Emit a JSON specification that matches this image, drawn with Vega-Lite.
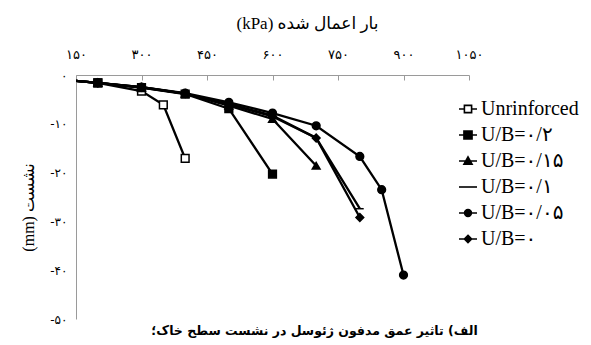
{
  "$schema": "https://vega.github.io/schema/vega-lite/v6.json",
  "autosize": {"type": "none"},
  "width": 393,
  "height": 244,
  "padding": {"left": 76, "top": 75, "right": 122, "bottom": 26},
  "background": "white",
  "config": {"view": {"stroke": null}},
  "title": {
    "text": "الف) تاثیر عمق مدفون ژئوسل در نشست سطح خاک؛",
    "orient": "bottom",
    "anchor": "middle",
    "dx": 42,
    "offset": 0,
    "font": "DejaVu Sans",
    "fontSize": 12.5,
    "fontWeight": "bold",
    "color": "black"
  },
  "data": {
    "values": [
      {"series": "Unrinforced", "load": 0, "settle": 0},
      {"series": "Unrinforced", "load": 200, "settle": -1.6},
      {"series": "Unrinforced", "load": 300, "settle": -3.3},
      {"series": "Unrinforced", "load": 350, "settle": -6.1},
      {"series": "Unrinforced", "load": 400, "settle": -17.1},
      {"series": "U/B=۰/۲", "load": 0, "settle": 0},
      {"series": "U/B=۰/۲", "load": 200, "settle": -1.6},
      {"series": "U/B=۰/۲", "load": 300, "settle": -2.6},
      {"series": "U/B=۰/۲", "load": 400, "settle": -3.9},
      {"series": "U/B=۰/۲", "load": 500, "settle": -6.9},
      {"series": "U/B=۰/۲", "load": 600, "settle": -20.3},
      {"series": "U/B=۰/۱۵", "load": 0, "settle": 0},
      {"series": "U/B=۰/۱۵", "load": 200, "settle": -1.6},
      {"series": "U/B=۰/۱۵", "load": 300, "settle": -2.6},
      {"series": "U/B=۰/۱۵", "load": 400, "settle": -3.8},
      {"series": "U/B=۰/۱۵", "load": 500, "settle": -6.3},
      {"series": "U/B=۰/۱۵", "load": 600, "settle": -9.0},
      {"series": "U/B=۰/۱۵", "load": 700, "settle": -18.6},
      {"series": "U/B=۰/۱", "load": 0, "settle": 0},
      {"series": "U/B=۰/۱", "load": 200, "settle": -1.6},
      {"series": "U/B=۰/۱", "load": 300, "settle": -2.5},
      {"series": "U/B=۰/۱", "load": 400, "settle": -3.8},
      {"series": "U/B=۰/۱", "load": 500, "settle": -5.9},
      {"series": "U/B=۰/۱", "load": 600, "settle": -8.3},
      {"series": "U/B=۰/۱", "load": 700, "settle": -12.9},
      {"series": "U/B=۰/۱", "load": 800, "settle": -27.4},
      {"series": "U/B=۰/۰۵", "load": 0, "settle": 0},
      {"series": "U/B=۰/۰۵", "load": 200, "settle": -1.6},
      {"series": "U/B=۰/۰۵", "load": 300, "settle": -2.5},
      {"series": "U/B=۰/۰۵", "load": 400, "settle": -3.7},
      {"series": "U/B=۰/۰۵", "load": 500, "settle": -5.6},
      {"series": "U/B=۰/۰۵", "load": 600, "settle": -7.8},
      {"series": "U/B=۰/۰۵", "load": 700, "settle": -10.4},
      {"series": "U/B=۰/۰۵", "load": 800, "settle": -16.7},
      {"series": "U/B=۰/۰۵", "load": 850, "settle": -23.5},
      {"series": "U/B=۰/۰۵", "load": 900, "settle": -41.0},
      {"series": "U/B=۰", "load": 0, "settle": 0},
      {"series": "U/B=۰", "load": 200, "settle": -1.6},
      {"series": "U/B=۰", "load": 300, "settle": -2.5},
      {"series": "U/B=۰", "load": 400, "settle": -3.8},
      {"series": "U/B=۰", "load": 500, "settle": -6.0},
      {"series": "U/B=۰", "load": 600, "settle": -8.5},
      {"series": "U/B=۰", "load": 700, "settle": -12.9},
      {"series": "U/B=۰", "load": 800, "settle": -29.2}
    ]
  },
  "encoding": {
    "x": {
      "field": "load",
      "type": "quantitative",
      "scale": {"domain": [150, 1050], "nice": false, "zero": false},
      "axis": {
        "orient": "top",
        "values": [150, 300, 450, 600, 750, 900, 1050],
        "grid": false,
        "domainColor": "#9a9a9a",
        "tickColor": "#9a9a9a",
        "tickSize": -5,
        "labelPadding": 19,
        "labelDx": 4,
        "labelOverlap": false,
        "labelFlush": false,
        "labelFont": "DejaVu Sans",
        "labelFontSize": 13,
        "labelColor": "black",
        "labelExpr": "replace(replace(replace(replace(replace(replace(replace(replace(replace(replace(toString(datum.value),regexp('0','g'),'۰'),regexp('1','g'),'۱'),regexp('2','g'),'۲'),regexp('3','g'),'۳'),regexp('4','g'),'۴'),regexp('5','g'),'۵'),regexp('6','g'),'۶'),regexp('7','g'),'۷'),regexp('8','g'),'۸'),regexp('9','g'),'۹')",
        "title": "(kPa) بار اعمال شده",
        "titleFont": "Liberation Serif, DejaVu Sans",
        "titleFontSize": 17,
        "titleFontWeight": "normal",
        "titleColor": "black",
        "titleX": 231,
        "titleY": -52,
        "titleBaseline": "middle"
      }
    },
    "y": {
      "field": "settle",
      "type": "quantitative",
      "scale": {"domain": [-50, 0], "nice": false},
      "axis": {
        "values": [0, -10, -20, -30, -40, -50],
        "grid": false,
        "ticks": false,
        "domainColor": "#9a9a9a",
        "labelPadding": 9,
        "labelOverlap": false,
        "labelFlush": false,
        "labelFont": "DejaVu Sans",
        "labelFontSize": 12,
        "labelColor": "black",
        "labelExpr": "replace(replace(replace(replace(replace(replace(replace(replace(replace(replace(toString(datum.value),regexp('0','g'),'۰'),regexp('1','g'),'۱'),regexp('2','g'),'۲'),regexp('3','g'),'۳'),regexp('4','g'),'۴'),regexp('5','g'),'۵'),regexp('6','g'),'۶'),regexp('7','g'),'۷'),regexp('8','g'),'۸'),regexp('9','g'),'۹')",
        "title": "(mm) نشست",
        "titleFont": "Liberation Serif, DejaVu Sans",
        "titleFontSize": 16,
        "titleFontWeight": "normal",
        "titleColor": "black",
        "titleX": -48,
        "titleY": 132,
        "titleBaseline": "middle"
      }
    }
  },
  "layer": [
    {
      "mark": {"type": "line", "color": "black", "strokeWidth": 2.3, "clip": true},
      "encoding": {"detail": {"field": "series"}}
    },
    {
      "transform": [{"filter": "datum.load > 0"}],
      "mark": {"type": "point", "filled": true, "stroke": "black", "strokeWidth": 1.5, "size": 60, "opacity": 1, "clip": true},
      "encoding": {
        "shape": {
          "field": "series",
          "scale": {
            "domain": ["Unrinforced", "U/B=۰/۲", "U/B=۰/۱۵", "U/B=۰/۱", "U/B=۰/۰۵", "U/B=۰"],
            "range": ["square", "square", "triangle-up", "M-1,0H1", "circle", "diamond"]
          },
          "legend": null
        },
        "fill": {
          "field": "series",
          "scale": {
            "domain": ["Unrinforced", "U/B=۰/۲", "U/B=۰/۱۵", "U/B=۰/۱", "U/B=۰/۰۵", "U/B=۰"],
            "range": ["white", "black", "black", "black", "black", "black"]
          },
          "legend": null
        }
      }
    },
    {
      "transform": [{"filter": "datum.load == 0"}],
      "mark": {"type": "point", "filled": true, "stroke": "black", "strokeWidth": 1.5, "opacity": 1, "clip": true},
      "encoding": {
        "shape": {
          "field": "series",
          "scale": {
            "domain": ["Unrinforced", "U/B=۰/۲", "U/B=۰/۱۵", "U/B=۰/۱", "U/B=۰/۰۵", "U/B=۰"],
            "range": [
              "M-1,0H-0.4M0.4,0H1M-0.4,-0.4H0.4V0.4H-0.4Z",
              "M-1,0H1M-0.45,-0.45H0.45V0.45H-0.45Z",
              "M-1,0H1M0,-0.45L0.45,0.35H-0.45Z",
              "M-1,0H1",
              "M-1,0H1M0.38,0A0.38,0.38,0,1,1,-0.38,0A0.38,0.38,0,1,1,0.38,0Z",
              "M-1,0H1M0,-0.4L0.4,0L0,0.4L-0.4,0Z"
            ]
          },
          "legend": {
            "orient": "none",
            "legendX": 382,
            "legendY": 24,
            "title": null,
            "labelFont": "Liberation Serif, DejaVu Sans",
            "labelFontSize": 20,
            "labelColor": "black",
            "labelOffset": 3,
            "symbolSize": 324,
            "symbolStrokeWidth": 1.5,
            "symbolStrokeColor": "black",
            "symbolOpacity": 1,
            "rowPadding": 6,
            "encode": {
              "symbols": {
                "update": {
                  "stroke": {"value": "black"},
                  "strokeWidth": {"value": 1.6},
                  "opacity": {"value": 1}
                }
              }
            }
          }
        },
        "fill": {
          "field": "series",
          "scale": {
            "domain": ["Unrinforced", "U/B=۰/۲", "U/B=۰/۱۵", "U/B=۰/۱", "U/B=۰/۰۵", "U/B=۰"],
            "range": ["white", "black", "black", "black", "black", "black"]
          },
          "legend": {
            "orient": "none",
            "legendX": 382,
            "legendY": 24,
            "title": null,
            "labelFont": "Liberation Serif, DejaVu Sans",
            "labelFontSize": 20,
            "labelColor": "black",
            "labelOffset": 3,
            "symbolSize": 324,
            "symbolStrokeWidth": 1.5,
            "symbolStrokeColor": "black",
            "symbolOpacity": 1,
            "rowPadding": 6,
            "encode": {
              "symbols": {
                "update": {
                  "stroke": {"value": "black"},
                  "strokeWidth": {"value": 1.6},
                  "opacity": {"value": 1}
                }
              }
            }
          }
        }
      }
    }
  ],
  "resolve": {"scale": {"shape": "independent", "fill": "independent"}}
}
